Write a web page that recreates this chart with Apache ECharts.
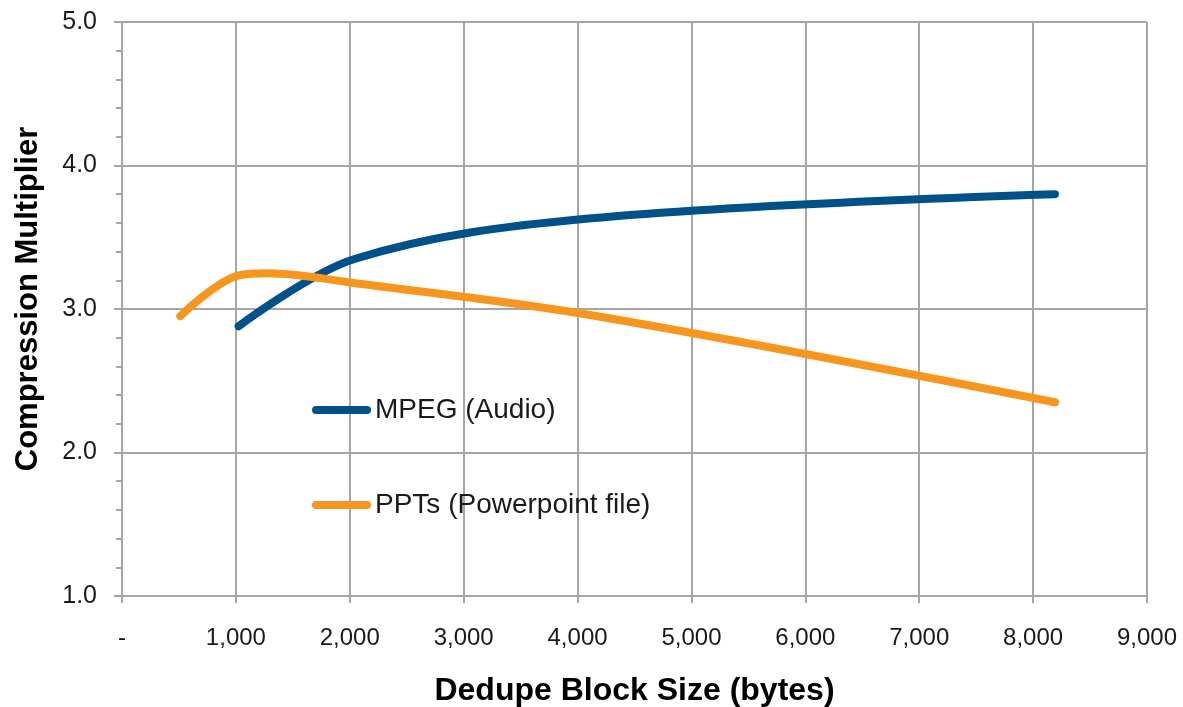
<!DOCTYPE html>
<html>
<head>
<meta charset="utf-8">
<script src="https://cdn.jsdelivr.net/npm/echarts@6/dist/echarts.min.js"></script>
<style>
html,body{margin:0;padding:0;background:#fff;}
#chart{width:1183px;height:707px;}
</style>
</head>
<body>
<div id="chart"></div>
<script>
// Data
const mpegBlockSizes = [1024, 2048, 4096, 8192];
const mpegValues     = [2.88, 3.35, 3.63, 3.80];
const pptBlockSizes  = [512, 1024, 1280, 2048, 4096, 8192];
const pptValues      = [2.95, 3.235, 3.25, 3.18, 2.96, 2.35];
const seriesNames    = ['MPEG (Audio)', 'PPTs (Powerpoint file)'];
const xTickLabels    = ['-', '1,000', '2,000', '3,000', '4,000', '5,000', '6,000', '7,000', '8,000', '9,000'];
const yTickLabels    = ['1.0', '2.0', '3.0', '4.0', '5.0'];
const xTitle = 'Dedupe Block Size (bytes)';
const yTitle = 'Compression Multiplier';

const FONT = "'Liberation Sans', Arial, sans-serif";
const GRID = '#a6a6a6';

const chart = echarts.init(document.getElementById('chart'), null, {renderer: 'canvas'});
chart.setOption({
  backgroundColor: '#ffffff',
  animation: false,
  grid: {left: 122, right: 36, top: 22, bottom: 111, containLabel: false, outerBoundsMode: 'none'},
  legend: {
    orient: 'vertical',
    left: 312,
    top: 394,
    padding: 0,
    itemWidth: 51,
    itemHeight: 8,
    itemGap: 63,
    lineStyle: {width: 8, cap: 'round'},
    textStyle: {fontFamily: FONT, fontSize: 28, color: '#1a1a1a', lineHeight: 32, padding: [0, 0, 0, 3]},
    data: seriesNames
  },
  xAxis: {
    type: 'value',
    min: 0, max: 9000, interval: 1000,
    name: xTitle,
    nameLocation: 'middle',
    nameGap: 79,
    nameTextStyle: {fontFamily: FONT, fontSize: 32, fontWeight: 'bold', color: '#000'},
    axisLine: {show: true, lineStyle: {color: GRID, width: 2}},
    axisTick: {show: true, inside: false, length: 7, lineStyle: {color: GRID, width: 2}},
    axisLabel: {
      margin: 30,
      fontFamily: FONT, fontSize: 24, color: '#1a1a1a',
      formatter: function (v) { return xTickLabels[Math.round(v / 1000)]; }
    },
    splitLine: {show: true, lineStyle: {color: GRID, width: 2}}
  },
  yAxis: {
    type: 'value',
    min: 1, max: 5, interval: 1,
    name: yTitle,
    nameLocation: 'middle',
    nameGap: 78,
    nameTextStyle: {fontFamily: FONT, fontSize: 31, fontWeight: 'bold', color: '#000', padding: [0, 0, 0, 20]},
    axisLine: {show: true, lineStyle: {color: GRID, width: 2}},
    axisTick: {show: true, inside: false, length: 8, lineStyle: {color: GRID, width: 2}},
    minorTick: {show: true, splitNumber: 5, length: 6, lineStyle: {color: GRID, width: 2}},
    axisLabel: {
      margin: 25,
      fontFamily: FONT, fontSize: 25, color: '#1a1a1a',
      formatter: function (v) { return yTickLabels[Math.round(v - 1)]; }
    },
    splitLine: {show: true, lineStyle: {color: GRID, width: 2}}
  },
  series: [
    {
      name: seriesNames[0],
      type: 'line',
      smooth: 0.35,
      symbol: 'circle',
      showSymbol: false,
      color: '#00508a',
      lineStyle: {width: 8, color: '#00508a', cap: 'round', join: 'round'},
      data: mpegBlockSizes.map((x, i) => [x, mpegValues[i]])
    },
    {
      name: seriesNames[1],
      type: 'line',
      smooth: 0.35,
      symbol: 'circle',
      showSymbol: false,
      color: '#f7961f',
      lineStyle: {width: 8, color: '#f7961f', cap: 'round', join: 'round'},
      data: pptBlockSizes.map((x, i) => [x, pptValues[i]])
    }
  ]
});
</script>
</body>
</html>
